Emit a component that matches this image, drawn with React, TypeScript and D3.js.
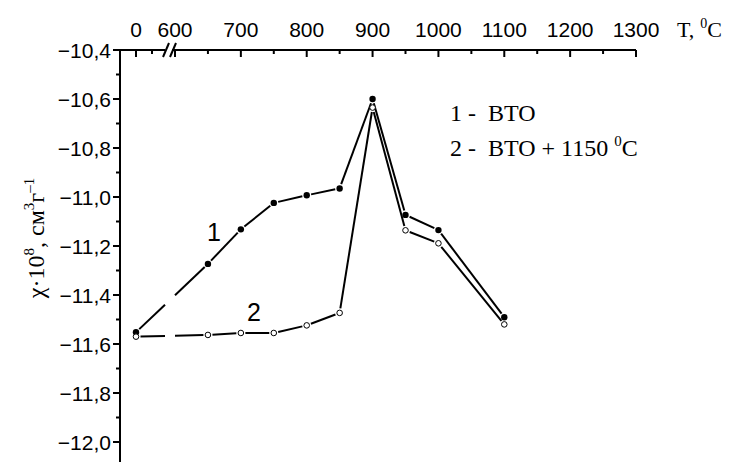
import React from "react";
import * as d3 from "d3";

const temps = [0, 650, 700, 750, 800, 850, 900, 950, 1000, 1100];
const series1 = [-11.552, -11.273, -11.132, -11.024, -10.993, -10.965, -10.6, -11.073, -11.135, -11.491];
const series2 = [-11.57, -11.563, -11.555, -11.555, -11.524, -11.473, -10.635, -11.136, -11.189, -11.52];

const xMajor = [0, 600, 700, 800, 900, 1000, 1100, 1200, 1300];
const xMajorLabels = ["0", "600", "700", "800", "900", "1000", "1100", "1200", "1300"];
const xMinor = [50, 650, 750, 850, 950, 1050, 1150, 1250];
const yMajor = [-10.4, -10.6, -10.8, -11.0, -11.2, -11.4, -11.6, -11.8, -12.0];
const yMinor = [-10.5, -10.7, -10.9, -11.1, -11.3, -11.5, -11.7, -11.9, -12.1];

const W = 731;
const H = 462;
const axisY = 50;
const axisX = 120;
const breakL = 165;
const breakR = 175;

const x = d3.scaleLinear().domain([-50, 50, 600, 1300]).range([120, 152, 175, 636]);
const y = d3.scaleLinear().domain([-10.4, -12.0]).range([50, 442]);

function segments(vals: number[]) {
  const pts = temps.map((t, i) => [x(t), y(vals[i])] as [number, number]);
  const segs: [number, number, number, number][] = [];
  const g = 4.5;
  for (let i = 0; i < pts.length - 1; i++) {
    const [x0, y0] = pts[i];
    const [x1, y1] = pts[i + 1];
    const L = Math.hypot(x1 - x0, y1 - y0);
    const dx = (x1 - x0) / L, dy = (y1 - y0) / L;
    const ax = x0 + dx * g, ay = y0 + dy * g;
    const bx = x1 - dx * g, by = y1 - dy * g;
    if (ax < breakL && bx > breakR) {
      const t1 = (breakL - ax) / (bx - ax);
      const t2 = (breakR - ax) / (bx - ax);
      segs.push([ax, ay, breakL, ay + (by - ay) * t1]);
      segs.push([breakR, ay + (by - ay) * t2, bx, by]);
    } else {
      segs.push([ax, ay, bx, by]);
    }
  }
  return segs;
}

const fmt = (v: number) => v.toFixed(1).replace(".", ",").replace("-", "\u2212");

export default function App() {
  const s1 = segments(series1);
  const s2 = segments(series2);
  const sans = "'Liberation Sans', Arial, sans-serif";
  const serif = "'Liberation Serif', 'Times New Roman', serif";
  return (
    <svg width={W} height={H} style={{ position: "absolute", left: 0, top: 0, background: "#fff" }}>
      {/* top axis line with break */}
      <line x1={axisX} x2={breakL} y1={axisY} y2={axisY} stroke="#000" strokeWidth={2} />
      <line x1={breakR - 3} x2={x(1300)} y1={axisY} y2={axisY} stroke="#000" strokeWidth={2} />
      <line x1={163} y1={57} x2={169} y2={43} stroke="#000" strokeWidth={2} />
      <line x1={170} y1={57} x2={176} y2={43} stroke="#000" strokeWidth={2} />
      {xMajor.map((t) => (
        <line key={"xM" + t} x1={x(t)} x2={x(t)} y1={axisY} y2={axisY + 7} stroke="#000" strokeWidth={2} />
      ))}
      {xMinor.map((t) => (
        <line key={"xm" + t} x1={x(t)} x2={x(t)} y1={axisY} y2={axisY + 4} stroke="#000" strokeWidth={2} />
      ))}
      {xMajor.map((t, i) => (
        <text key={"xl" + t} x={x(t)} y={36.5} textAnchor="middle" fontFamily={sans} fontSize={21}>
          {xMajorLabels[i]}
        </text>
      ))}
      <text x={677} y={36.5} fontFamily={serif} fontSize={22}>
        T,
        <tspan dx={6} dy={-9} fontSize={14}>0</tspan>
        <tspan dy={9}>C</tspan>
      </text>

      {/* left axis */}
      <line x1={axisX} x2={axisX} y1={axisY - 1} y2={H} stroke="#000" strokeWidth={2} />
      {yMajor.map((v) => (
        <line key={"yM" + v} x1={axisX - 7} x2={axisX} y1={y(v)} y2={y(v)} stroke="#000" strokeWidth={2} />
      ))}
      {yMinor.map((v) => (
        <line key={"ym" + v} x1={axisX - 4} x2={axisX} y1={y(v)} y2={y(v)} stroke="#000" strokeWidth={2} />
      ))}
      {yMajor.map((v) => (
        <text key={"yl" + v} x={111} y={y(v) + 7.5} textAnchor="end" fontFamily={sans} fontSize={21}>
          {fmt(v)}
        </text>
      ))}
      <text transform="translate(44,238) rotate(-90)" textAnchor="middle" fontFamily={serif} fontSize={24}>
        χ·10
        <tspan dy={-10} fontSize={15}>8</tspan>
        <tspan dy={10}>, см</tspan>
        <tspan dy={-10} fontSize={15}>3</tspan>
        <tspan dy={10}>г</tspan>
        <tspan dy={-10} fontSize={15}>–1</tspan>
      </text>

      {/* lines */}
      {s1.map((s, i) => (
        <line key={"a" + i} x1={s[0]} y1={s[1]} x2={s[2]} y2={s[3]} stroke="#000" strokeWidth={2} />
      ))}
      {s2.map((s, i) => (
        <line key={"b" + i} x1={s[0]} y1={s[1]} x2={s[2]} y2={s[3]} stroke="#000" strokeWidth={2} />
      ))}
      {temps.map((t, i) => (
        <circle key={"c1" + i} cx={x(t)} cy={y(series1[i])} r={3.2} fill="#000" />
      ))}
      {temps.map((t, i) => (
        <circle key={"c2" + i} cx={x(t)} cy={y(series2[i])} r={2.8} fill="#fff" stroke="#000" strokeWidth={1} />
      ))}

      <text x={214} y={241} textAnchor="middle" fontFamily={sans} fontSize={25}>1</text>
      <text x={254} y={321} textAnchor="middle" fontFamily={sans} fontSize={25}>2</text>

      {/* legend */}
      <text x={450} y={121} fontFamily={serif} fontSize={24} style={{ whiteSpace: "pre" }}>
        {"1 -  BTO"}
      </text>
      <text x={450} y={156} fontFamily={serif} fontSize={24} style={{ whiteSpace: "pre" }}>
        {"2 -  BTO + 1150 "}
        <tspan dy={-10} fontSize={15}>0</tspan>
        <tspan dy={10}>C</tspan>
      </text>
    </svg>
  );
}
